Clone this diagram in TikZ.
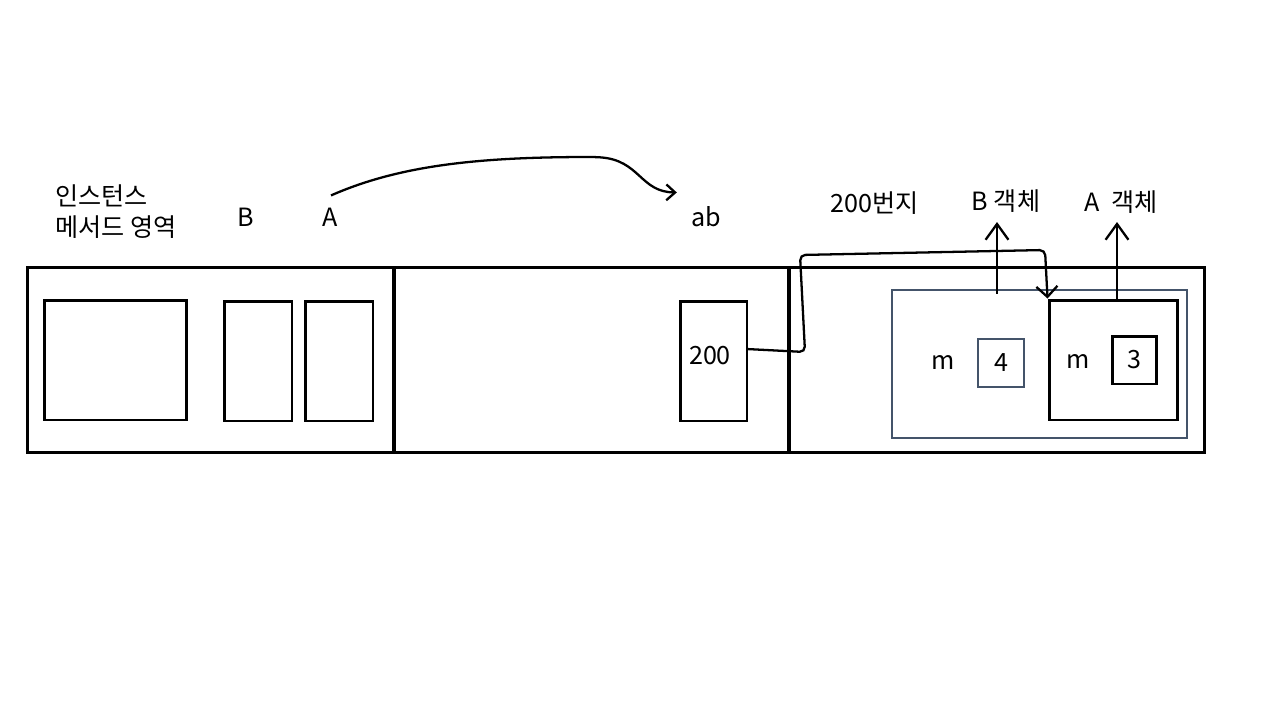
\documentclass[tikz,border=0pt]{standalone}
\usepackage{fontspec}
\setmainfont{Noto Sans CJK KR}
\usepackage{xcolor}
\usepackage{tikz}
\usetikzlibrary{positioning, arrows.meta, calc}
\definecolor{slateBox}{RGB}{68, 84, 106}

\begin{document}
\begin{tikzpicture}[
        x=0.02cm, y=-0.02cm,
        font=\fontsize{14.3}{17.6}\selectfont,
        box/.style={rectangle, draw, line width=1.7pt, inner sep=0pt},
        gbox/.style={box, draw=slateBox, line width=1.4pt},
        lbl/.style={inner sep=0pt},
        arr/.style={-{Straight Barb[length=9pt, width=13pt]}, line width=1.3pt, rounded corners=3pt}
    ]
    \useasboundingbox (0,0) rectangle (1280,720);

    % three memory areas
    \node[box, minimum width=7.34cm, minimum height=3.72cm] (heap)  at (210.5,360) {};
    \node[box, minimum width=7.9cm,  minimum height=3.72cm] (stack) at (591.5,360) {};
    \node[box, minimum width=8.32cm, minimum height=3.72cm] (obj)   at (997,360) {};

    \node[box, minimum width=2.86cm, minimum height=2.4cm] (meth) at (115.5,360) {};
    \node[box, minimum width=1.36cm, minimum height=2.4cm] (clsB) at (258,361) {};
    \node[box, minimum width=1.36cm, minimum height=2.4cm] (clsA) at (339,361) {};
    \node[box, minimum width=1.34cm, minimum height=2.4cm] (ref)  at (713.5,361) {};
    \node[lbl] (refval) at (710,356) {200};

    \node[gbox, minimum width=5.9cm,  minimum height=2.96cm] (objB) at (1039.5,364) {};
    \node[box,  minimum width=2.56cm, minimum height=2.4cm]  (objA) at (1113,360) {};
    \node[gbox, minimum width=0.92cm, minimum height=0.96cm] (valB) at (1001,363) {4};
    \node[box,  minimum width=0.88cm, minimum height=0.96cm] (valA) at (1134,360) {3};
    \node[lbl] (mB) at (943,362) {m};
    \node[lbl] (mA) at (1078,361) {m};

    % labels
    \node[lbl, align=left, anchor=west] (area) at (55,212) {인스턴스\\메서드 영역};
    \node[lbl] (nameB) at (246,217) {B};
    \node[lbl] (nameA) at (330,217) {A};
    \node[lbl] (ab)    at (706,217) {ab};
    \node[lbl] (addr)  at (875,203) {200번지};
    \node[lbl] (tagB)  at (1006,201) {B 객체};
    \node[lbl] (tagA)  at (1121,202) {A\ \ 객체};

    \coordinate (tipB) at (997,222);
    \coordinate (tipA) at (1117,222);

    \draw[arr, -{Straight Barb[length=5pt, width=9pt]}]
        ($(nameA.north)+(1,-12)$) .. controls (400,165) and (480,157) .. (595,157)
        .. controls (640,160) and (640,192) .. ($(ab.north west)+(-14,-14)$);
    \draw[arr, -{Straight Barb[length=6pt, width=12pt]}]
        ($(ref.east)+(-2,-12)$) -- (805,352) -- (800,255) -- (1045,250) -- (objA.north west);
    \draw[arr] ($(tipB |- objB.north)+(0,5)$) -- (tipB);
    \draw[arr] (tipA |- objA.north) -- (tipA);
\end{tikzpicture}
\end{document}
